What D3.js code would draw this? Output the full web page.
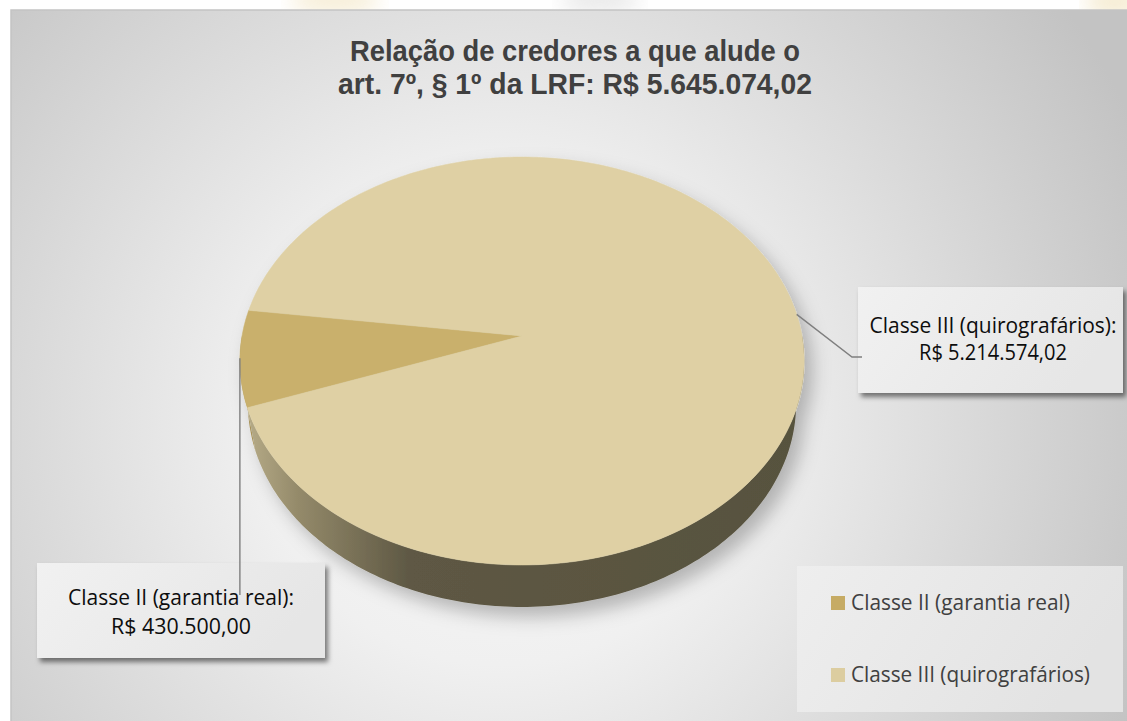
<!DOCTYPE html>
<html>
<head>
<meta charset="utf-8">
<script src="https://cdn.jsdelivr.net/npm/d3@7"></script>
<style>
  body { margin: 0; background: #fff; overflow: hidden; }
  text { font-family: "Open Sans", "Noto Sans", sans-serif; }
  .title text { font-family: "Liberation Sans", Arial, sans-serif; }
</style>
</head>
<body>
<div id="chart"></div>
<script>
// Chart data
const titleLines = ["Relação de credores a que alude o", "art. 7º, § 1º da LRF: R$ "];
const categories = ["Classe II (garantia real)", "Classe III (quirografários)"];
const values = [430500.00, 5214574.02];
const sliceColors = ["#c9b06c", "#dfd0a4"];
const legendColors = ["#c6ab64", "#dccda0"];

// Brazilian number format: R$ 5.645.074,02
const ptBR = d3.formatLocale({ decimal: ",", thousands: ".", grouping: [3], currency: ["R$ ", ""] });
const money = ptBR.format("$,.2f");
const total = d3.sum(values);

const W = 1127, H = 721;

const svg = d3.select("#chart")
  .append("svg")
    .attr("width", W)
    .attr("height", H);

const defs = svg.append("defs");

// Background gradient of the chart area
const bg = defs.append("radialGradient")
    .attr("id", "bgGrad")
    .attr("gradientUnits", "userSpaceOnUse")
    .attr("cx", 500).attr("cy", 420).attr("r", 700);
bg.append("stop").attr("offset", 0).attr("stop-color", "#f8f8f8");
bg.append("stop").attr("offset", 0.35).attr("stop-color", "#f0f0f0");
bg.append("stop").attr("offset", 1).attr("stop-color", "#c3c3c3");

// Side wall gradient (light at the left, dark olive to the right)
const sideGrad = defs.append("linearGradient")
    .attr("id", "sideGrad")
    .attr("gradientUnits", "userSpaceOnUse")
    .attr("x1", 242).attr("x2", 802).attr("y1", 0).attr("y2", 0);
sideGrad.append("stop").attr("offset", 0).attr("stop-color", "#b9ae8a");
sideGrad.append("stop").attr("offset", 0.1).attr("stop-color", "#948a6a");
sideGrad.append("stop").attr("offset", 0.3).attr("stop-color", "#5e5844");
sideGrad.append("stop").attr("offset", 1).attr("stop-color", "#57523e");

const boxGrad = defs.append("linearGradient")
    .attr("id", "boxGrad")
    .attr("x1", 0).attr("x2", 1).attr("y1", 0).attr("y2", 0.3);
boxGrad.append("stop").attr("offset", 0).attr("stop-color", "#f1f1f1");
boxGrad.append("stop").attr("offset", 1).attr("stop-color", "#e6e6e6");

const legGrad = defs.append("linearGradient")
    .attr("id", "legGrad")
    .attr("x1", 0).attr("x2", 1).attr("y1", 0).attr("y2", 0.3);
legGrad.append("stop").attr("offset", 0).attr("stop-color", "#eeeeee");
legGrad.append("stop").attr("offset", 1).attr("stop-color", "#e3e3e3");

const pieShadow = defs.append("filter").attr("id", "pieShadow")
    .attr("x", "-20%").attr("y", "-20%").attr("width", "140%").attr("height", "140%");
pieShadow.append("feDropShadow")
    .attr("dx", 8).attr("dy", 10).attr("stdDeviation", 9)
    .attr("flood-color", "#000").attr("flood-opacity", 0.25);

const boxShadow = defs.append("filter").attr("id", "boxShadow")
    .attr("x", "-10%").attr("y", "-10%").attr("width", "125%").attr("height", "130%");
boxShadow.append("feDropShadow")
    .attr("dx", 3).attr("dy", 4).attr("stdDeviation", 2.5)
    .attr("flood-color", "#000").attr("flood-opacity", 0.5);

const blur = defs.append("filter").attr("id", "blur");
blur.append("feGaussianBlur").attr("stdDeviation", 10);

// faint decorations of the page above the chart
svg.append("ellipse").attr("cx", 335).attr("cy", 0).attr("rx", 45).attr("ry", 14)
    .attr("fill", "#f1e3bd").attr("opacity", 0.6).attr("filter", "url(#blur)");
svg.append("ellipse").attr("cx", 600).attr("cy", 0).attr("rx", 40).attr("ry", 12)
    .attr("fill", "#d8d8d8").attr("opacity", 0.6).attr("filter", "url(#blur)");
svg.append("ellipse").attr("cx", 1115).attr("cy", 2).attr("rx", 30).attr("ry", 14)
    .attr("fill", "#f1e3bd").attr("opacity", 0.7).attr("filter", "url(#blur)");

// Chart area
svg.append("rect")
    .attr("x", 11).attr("y", 10)
    .attr("width", W).attr("height", H)
    .attr("fill", "url(#bgGrad)")
    .attr("stroke", "#c4c4c4")
    .attr("stroke-width", 1.5);

// Title
const title = svg.append("g").attr("class", "title").attr("fill", "#404040")
    .style("font-weight", "bold").style("font-size", "29px");
const titleText = [titleLines[0], titleLines[1] + ptBR.format(",.2f")(total)];
const titleLayout = [{ y: 61, w: 450 }, { y: 94, w: 474 }];
titleText.forEach((t, i) => {
  title.append("text")
      .attr("x", 575 - titleLayout[i].w / 2)
      .attr("y", titleLayout[i].y)
      .attr("textLength", titleLayout[i].w)
      .attr("lengthAdjust", "spacingAndGlyphs")
      .text(t);
});

// ---- 3D pie ----
// perspective projection of a tilted disk
const cx = 522, cy = 336, focal = 1591.6, dist = 5.684;
const sinT = 0.7176, cosT = 0.6965, thick = 0.229;
function project(a, r, t) {
  const u = r * Math.sin(a), v = r * Math.cos(a);
  const Y = v * sinT - t * cosT, Z = v * cosT + t * sinT;
  return [cx + focal * u / (dist + Z), cy - focal * Y / (dist + Z)];
}
function rim(a0, a1, t) {
  const n = Math.max(2, Math.ceil(Math.abs(a1 - a0) / (Math.PI / 180)));
  return d3.range(n + 1).map(i => project(a0 + (a1 - a0) * i / n, 1, t));
}

const start = 250 * Math.PI / 180;
const arcs = d3.pie().sort(null)
    .startAngle(start)
    .endAngle(start + 2 * Math.PI)(values);

const line = d3.line();
const pieG = svg.append("g").attr("filter", "url(#pieShadow)");

// front side walls: part of each slice facing the viewer
const sideColors = ["#a8935a", "url(#sideGrad)"];
arcs.forEach((d, i) => {
  for (let k = 0; k < 2; k++) {
    const lo = Math.max(d.startAngle, Math.PI / 2 + 2 * Math.PI * k);
    const hi = Math.min(d.endAngle, 3 * Math.PI / 2 + 2 * Math.PI * k);
    if (hi <= lo) continue;
    const pts = rim(lo, hi, 0).concat(rim(lo, hi, thick).reverse());
    pieG.append("path")
        .attr("d", line(pts) + "Z")
        .attr("fill", sideColors[i]);
  }
});

// top faces
arcs.forEach((d, i) => {
  const pts = [project(0, 0, 0)].concat(rim(d.startAngle, d.endAngle, 0));
  pieG.append("path")
      .attr("d", line(pts) + "Z")
      .attr("fill", sliceColors[i])
      .attr("stroke", sliceColors[i])
      .attr("stroke-width", 0.5);
});

// ---- data labels with leader lines ----
const mid = d => (d.startAngle + d.endAngle) / 2;
const p0 = project(mid(arcs[0]), 1, 0);
const p1 = project(mid(arcs[1]), 1, 0);

const labelBoxes = [
  { x: 37, y: 563, w: 288, h: 95, cx: 181, ys: [605, 634], ws: [226, 140] },
  { x: 858, y: 287, w: 265, h: 106, cx: 993, ys: [333, 360], ws: [247, 148] }
];

labelBoxes.forEach(b => {
  svg.append("rect")
      .attr("x", b.x).attr("y", b.y)
      .attr("width", b.w).attr("height", b.h)
      .attr("fill", "url(#boxGrad)")
      .attr("filter", "url(#boxShadow)");
});

svg.append("path")
    .attr("d", line([p0, [p0[0], 595]]))
    .attr("fill", "none").attr("stroke", "#7f7f7f").attr("stroke-width", 1.4);
svg.append("path")
    .attr("d", line([p1, [852, 357], [862, 357]]))
    .attr("fill", "none").attr("stroke", "#7f7f7f").attr("stroke-width", 1.4);

labelBoxes.forEach((b, i) => {
  const lines = [categories[i] + ":", money(values[i])];
  lines.forEach((t, j) => {
    svg.append("text")
        .attr("x", b.cx - b.ws[j] / 2)
        .attr("y", b.ys[j])
        .attr("textLength", b.ws[j])
        .attr("lengthAdjust", "spacingAndGlyphs")
        .attr("fill", "#0d0d0d")
        .style("font-size", "21px")
        .text(t);
  });
});

// ---- legend ----
svg.append("rect")
    .attr("x", 797).attr("y", 566)
    .attr("width", 326).attr("height", 146)
    .attr("fill", "url(#legGrad)");

const legendY = d3.scalePoint().domain(categories).range([603, 675]);
const legendW = [219, 239];
const legend = svg.append("g").selectAll("g")
  .data(categories)
  .join("g")
    .attr("transform", d => `translate(831, ${legendY(d)})`);
legend.append("rect")
    .attr("x", 0).attr("y", -7)
    .attr("width", 14).attr("height", 14)
    .attr("fill", (d, i) => legendColors[i]);
legend.append("text")
    .attr("x", 20).attr("y", 7)
    .attr("textLength", (d, i) => legendW[i])
    .attr("lengthAdjust", "spacingAndGlyphs")
    .attr("fill", "#404040")
    .style("font-size", "22px")
    .text(d => d);
</script>
</body>
</html>
